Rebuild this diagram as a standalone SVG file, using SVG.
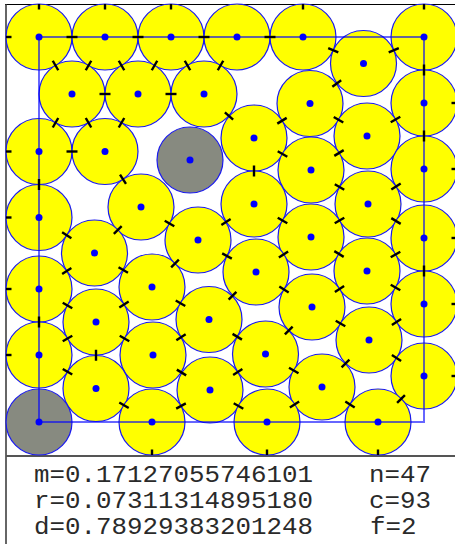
<svg xmlns="http://www.w3.org/2000/svg" width="455" height="544" viewBox="0 0 455 544">
<style>
.c{fill:#ffff00;stroke:#1a1aee;stroke-width:1.2}
.g{fill:#878a80;stroke:#1a1aee;stroke-width:1.2}
.d{fill:#0000ff}
.sq{fill:none;stroke:#0000ff;stroke-opacity:0.6;stroke-width:2}
.t line{stroke:#000;stroke-width:2.4}
.tx{font-family:"Liberation Mono","DejaVu Sans Mono",monospace;font-size:24px;fill:#2a2a2a}
</style>
<rect width="455" height="544" fill="#fff"/>
<g id="frame" fill="none">
<line x1="5" y1="4.5" x2="455" y2="4.5" stroke="#000" stroke-width="1"/>
<line x1="6" y1="4" x2="6" y2="544" stroke="#333" stroke-width="1.5"/>
<line x1="6" y1="456" x2="455" y2="456" stroke="#555" stroke-width="2"/>
</g>
<g id="n1"><circle class="c" cx="39" cy="37" r="33"/><circle class="d" cx="39" cy="37" r="3.5"/></g>
<g id="n2"><circle class="c" cx="105" cy="37" r="33"/><circle class="d" cx="105" cy="37" r="3.5"/></g>
<g id="n3"><circle class="c" cx="171" cy="37" r="33"/><circle class="d" cx="171" cy="37" r="3.5"/></g>
<g id="n4"><circle class="c" cx="237" cy="37" r="33"/><circle class="d" cx="237" cy="37" r="3.5"/></g>
<g id="n5"><circle class="c" cx="303" cy="37" r="33"/><circle class="d" cx="303" cy="37" r="3.5"/></g>
<g id="n6"><circle class="c" cx="424" cy="37" r="33"/><circle class="d" cx="424" cy="37" r="3.5"/></g>
<g id="n7"><circle class="c" cx="72" cy="94" r="33"/><circle class="d" cx="72" cy="94" r="3.5"/></g>
<g id="n8"><circle class="c" cx="138" cy="94" r="33"/><circle class="d" cx="138" cy="94" r="3.5"/></g>
<g id="n9"><circle class="c" cx="204" cy="94" r="33"/><circle class="d" cx="204" cy="94" r="3.5"/></g>
<g id="n10"><circle class="c" cx="363.5" cy="63.5" r="33"/><circle class="d" cx="363.5" cy="63.5" r="3.5"/></g>
<g id="n11"><circle class="c" cx="424" cy="103" r="33"/><circle class="d" cx="424" cy="103" r="3.5"/></g>
<g id="n12"><circle class="c" cx="310" cy="103.5" r="33"/><circle class="d" cx="310" cy="103.5" r="3.5"/></g>
<g id="n13"><circle class="c" cx="39" cy="151.5" r="33"/><circle class="d" cx="39" cy="151.5" r="3.5"/></g>
<g id="n14"><circle class="c" cx="105" cy="151.5" r="33"/><circle class="d" cx="105" cy="151.5" r="3.5"/></g>
<g id="n15"><circle class="g" cx="190" cy="160" r="33"/><circle class="d" cx="190" cy="160" r="3.5"/></g>
<g id="n16"><circle class="c" cx="39" cy="217.5" r="33"/><circle class="d" cx="39" cy="217.5" r="3.5"/></g>
<g id="n17"><circle class="c" cx="141" cy="207" r="33"/><circle class="d" cx="141" cy="207" r="3.5"/></g>
<g id="n18"><circle class="c" cx="254" cy="138" r="33"/><circle class="d" cx="254" cy="138" r="3.5"/></g>
<g id="n19"><circle class="c" cx="367" cy="136" r="33"/><circle class="d" cx="367" cy="136" r="3.5"/></g>
<g id="n20"><circle class="c" cx="424" cy="169" r="33"/><circle class="d" cx="424" cy="169" r="3.5"/></g>
<g id="n21"><circle class="c" cx="311" cy="170" r="33"/><circle class="d" cx="311" cy="170" r="3.5"/></g>
<g id="n22"><circle class="c" cx="254" cy="204" r="33"/><circle class="d" cx="254" cy="204" r="3.5"/></g>
<g id="n23"><circle class="c" cx="368" cy="204" r="33"/><circle class="d" cx="368" cy="204" r="3.5"/></g>
<g id="n24"><circle class="c" cx="94.5" cy="253" r="33"/><circle class="d" cx="94.5" cy="253" r="3.5"/></g>
<g id="n25"><circle class="c" cx="39" cy="289" r="33"/><circle class="d" cx="39" cy="289" r="3.5"/></g>
<g id="n26"><circle class="c" cx="152" cy="287" r="33"/><circle class="d" cx="152" cy="287" r="3.5"/></g>
<g id="n27"><circle class="c" cx="198" cy="240" r="33"/><circle class="d" cx="198" cy="240" r="3.5"/></g>
<g id="n28"><circle class="c" cx="96" cy="322" r="33"/><circle class="d" cx="96" cy="322" r="3.5"/></g>
<g id="n29"><circle class="c" cx="209" cy="319.5" r="33"/><circle class="d" cx="209" cy="319.5" r="3.5"/></g>
<g id="n30"><circle class="c" cx="39" cy="355" r="33"/><circle class="d" cx="39" cy="355" r="3.5"/></g>
<g id="n31"><circle class="c" cx="153" cy="355" r="33"/><circle class="d" cx="153" cy="355" r="3.5"/></g>
<g id="n32"><circle class="c" cx="96" cy="388.5" r="33"/><circle class="d" cx="96" cy="388.5" r="3.5"/></g>
<g id="n33"><circle class="c" cx="210" cy="390" r="33"/><circle class="d" cx="210" cy="390" r="3.5"/></g>
<g id="n34"><circle class="g" cx="39" cy="422" r="33"/><circle class="d" cx="39" cy="422" r="3.5"/></g>
<g id="n35"><circle class="c" cx="152" cy="422" r="33"/><circle class="d" cx="152" cy="422" r="3.5"/></g>
<g id="n36"><circle class="c" cx="311" cy="237" r="33"/><circle class="d" cx="311" cy="237" r="3.5"/></g>
<g id="n37"><circle class="c" cx="424" cy="238" r="33"/><circle class="d" cx="424" cy="238" r="3.5"/></g>
<g id="n38"><circle class="c" cx="256" cy="272" r="33"/><circle class="d" cx="256" cy="272" r="3.5"/></g>
<g id="n39"><circle class="c" cx="367" cy="271" r="33"/><circle class="d" cx="367" cy="271" r="3.5"/></g>
<g id="n40"><circle class="c" cx="424" cy="304" r="33"/><circle class="d" cx="424" cy="304" r="3.5"/></g>
<g id="n41"><circle class="c" cx="312" cy="307" r="33"/><circle class="d" cx="312" cy="307" r="3.5"/></g>
<g id="n42"><circle class="c" cx="369" cy="340" r="33"/><circle class="d" cx="369" cy="340" r="3.5"/></g>
<g id="n43"><circle class="c" cx="265.5" cy="354" r="33"/><circle class="d" cx="265.5" cy="354" r="3.5"/></g>
<g id="n44"><circle class="c" cx="424" cy="376" r="33"/><circle class="d" cx="424" cy="376" r="3.5"/></g>
<g id="n45"><circle class="c" cx="322" cy="387" r="33"/><circle class="d" cx="322" cy="387" r="3.5"/></g>
<g id="n46"><circle class="c" cx="267" cy="422" r="33"/><circle class="d" cx="267" cy="422" r="3.5"/></g>
<g id="n47"><circle class="c" cx="378" cy="422" r="33"/><circle class="d" cx="378" cy="422" r="3.5"/></g>
<g id="square"><path class="sq" d="M39 37H424V422H39Z"/></g>
<g id="contacts" class="t">
<line x1="66.5" y1="37" x2="77.5" y2="37"/>
<line x1="132.5" y1="37" x2="143.5" y2="37"/>
<line x1="198.5" y1="37" x2="209.5" y2="37"/>
<line x1="264.5" y1="37" x2="275.5" y2="37"/>
<line x1="52.75" y1="60.74" x2="58.25" y2="70.26"/>
<line x1="91.25" y1="60.74" x2="85.75" y2="70.26"/>
<line x1="118.75" y1="60.74" x2="124.25" y2="70.26"/>
<line x1="157.25" y1="60.74" x2="151.75" y2="70.26"/>
<line x1="184.75" y1="60.74" x2="190.25" y2="70.26"/>
<line x1="223.25" y1="60.74" x2="217.75" y2="70.26"/>
<line x1="99.5" y1="94" x2="110.5" y2="94"/>
<line x1="165.5" y1="94" x2="176.5" y2="94"/>
<line x1="224.87" y1="112.37" x2="233.13" y2="119.63"/>
<line x1="58.24" y1="117.98" x2="52.76" y2="127.52"/>
<line x1="85.76" y1="117.98" x2="91.24" y2="127.52"/>
<line x1="124.24" y1="117.98" x2="118.76" y2="127.52"/>
<line x1="66.5" y1="151.5" x2="77.5" y2="151.5"/>
<line x1="39" y1="179" x2="39" y2="190"/>
<line x1="120.01" y1="174.64" x2="125.99" y2="183.86"/>
<line x1="121.66" y1="226.13" x2="113.84" y2="233.87"/>
<line x1="164.74" y1="220.75" x2="174.26" y2="226.25"/>
<line x1="230.63" y1="219.03" x2="221.37" y2="224.97"/>
<line x1="328.21" y1="48.04" x2="338.29" y2="52.46"/>
<line x1="388.71" y1="52.46" x2="398.79" y2="48.04"/>
<line x1="424" y1="64.5" x2="424" y2="75.5"/>
<line x1="341.16" y1="80.21" x2="332.34" y2="86.79"/>
<line x1="286.68" y1="117.87" x2="277.32" y2="123.63"/>
<line x1="333.72" y1="117.03" x2="343.28" y2="122.47"/>
<line x1="390.74" y1="122.25" x2="400.26" y2="116.75"/>
<line x1="424" y1="130.5" x2="424" y2="141.5"/>
<line x1="277.7" y1="151.31" x2="287.3" y2="156.69"/>
<line x1="343.7" y1="150.15" x2="334.3" y2="155.85"/>
<line x1="254" y1="165.5" x2="254" y2="176.5"/>
<line x1="334.78" y1="184.18" x2="344.22" y2="189.82"/>
<line x1="400.67" y1="183.58" x2="391.33" y2="189.42"/>
<line x1="277.74" y1="217.75" x2="287.26" y2="223.25"/>
<line x1="344.26" y1="217.75" x2="334.74" y2="223.25"/>
<line x1="391.3" y1="218.15" x2="400.7" y2="223.85"/>
<line x1="62.12" y1="232.29" x2="71.38" y2="238.21"/>
<line x1="222.18" y1="253.34" x2="231.82" y2="258.66"/>
<line x1="71.36" y1="268.01" x2="62.14" y2="273.99"/>
<line x1="118.51" y1="267.2" x2="127.99" y2="272.8"/>
<line x1="171.15" y1="267.43" x2="178.85" y2="259.57"/>
<line x1="62.74" y1="302.75" x2="72.26" y2="308.25"/>
<line x1="128.67" y1="301.58" x2="119.33" y2="307.42"/>
<line x1="175.72" y1="300.53" x2="185.28" y2="305.97"/>
<line x1="39" y1="316.5" x2="39" y2="327.5"/>
<line x1="72.26" y1="335.75" x2="62.74" y2="341.25"/>
<line x1="119.74" y1="335.75" x2="129.26" y2="341.25"/>
<line x1="185.65" y1="334.31" x2="176.35" y2="340.19"/>
<line x1="96" y1="349.75" x2="96" y2="360.75"/>
<line x1="62.76" y1="368.96" x2="72.24" y2="374.54"/>
<line x1="176.81" y1="369.62" x2="186.19" y2="375.38"/>
<line x1="119.28" y1="402.43" x2="128.72" y2="408.07"/>
<line x1="185.82" y1="403.34" x2="176.18" y2="408.66"/>
<line x1="288.14" y1="251.55" x2="278.86" y2="257.45"/>
<line x1="334.3" y1="251.15" x2="343.7" y2="256.85"/>
<line x1="400.26" y1="251.75" x2="390.74" y2="257.25"/>
<line x1="424" y1="265.5" x2="424" y2="276.5"/>
<line x1="228.63" y1="299.66" x2="236.37" y2="291.84"/>
<line x1="279.33" y1="286.58" x2="288.67" y2="292.42"/>
<line x1="344.1" y1="285.99" x2="334.9" y2="292.01"/>
<line x1="390.74" y1="284.75" x2="400.26" y2="290.25"/>
<line x1="232.56" y1="333.88" x2="241.94" y2="339.62"/>
<line x1="292.62" y1="326.59" x2="284.88" y2="334.41"/>
<line x1="335.74" y1="320.75" x2="345.26" y2="326.25"/>
<line x1="401.1" y1="318.99" x2="391.9" y2="325.01"/>
<line x1="233.14" y1="374.99" x2="242.36" y2="369.01"/>
<line x1="289" y1="367.72" x2="298.5" y2="373.28"/>
<line x1="349.39" y1="359.61" x2="341.61" y2="367.39"/>
<line x1="391.9" y1="354.99" x2="401.1" y2="361.01"/>
<line x1="233.7" y1="403.31" x2="243.3" y2="408.69"/>
<line x1="299.14" y1="401.55" x2="289.86" y2="407.45"/>
<line x1="345.33" y1="401.58" x2="354.67" y2="407.42"/>
<line x1="404.89" y1="395.11" x2="397.11" y2="402.89"/>
<line x1="39" y1="4" x2="39" y2="9.5"/>
<line x1="105" y1="4" x2="105" y2="9.5"/>
<line x1="171" y1="4" x2="171" y2="9.5"/>
<line x1="303" y1="4" x2="303" y2="9.5"/>
<line x1="424" y1="4" x2="424" y2="9.5"/>
<line x1="6" y1="37" x2="11.5" y2="37"/>
<line x1="6" y1="151.5" x2="11.5" y2="151.5"/>
<line x1="6" y1="217.5" x2="11.5" y2="217.5"/>
<line x1="6" y1="289" x2="11.5" y2="289"/>
<line x1="6" y1="355" x2="11.5" y2="355"/>
<line x1="451.5" y1="103" x2="457" y2="103"/>
<line x1="451.5" y1="169" x2="457" y2="169"/>
<line x1="451.5" y1="238" x2="457" y2="238"/>
<line x1="451.5" y1="304" x2="457" y2="304"/>
<line x1="451.5" y1="376" x2="457" y2="376"/>
<line x1="152" y1="449.5" x2="152" y2="455"/>
<line x1="267" y1="449.5" x2="267" y2="455"/>
<line x1="378" y1="449.5" x2="378" y2="455"/>
</g>
<g id="legend" class="tx">
<text x="34" y="482" textLength="279" lengthAdjust="spacingAndGlyphs">m=0.17127055746101</text>
<text x="34" y="508" textLength="279" lengthAdjust="spacingAndGlyphs">r=0.07311314895180</text>
<text x="34" y="534" textLength="279" lengthAdjust="spacingAndGlyphs">d=0.78929383201248</text>
<text x="369" y="482" textLength="62" lengthAdjust="spacingAndGlyphs">n=47</text>
<text x="369" y="508" textLength="62" lengthAdjust="spacingAndGlyphs">c=93</text>
<text x="370" y="534" textLength="46.5" lengthAdjust="spacingAndGlyphs">f=2</text>
</g>
</svg>
